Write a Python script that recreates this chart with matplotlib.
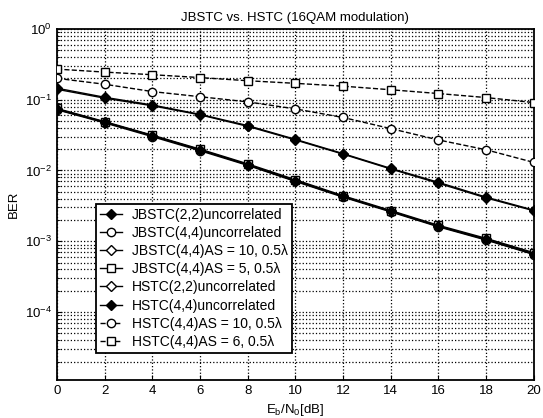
import numpy as np
import matplotlib
matplotlib.use('Agg')
import matplotlib.pyplot as plt

plt.rcParams['font.family'] = ['Liberation Sans', 'DejaVu Sans']

# Eb/N0 in dB
snr = [0, 2, 4, 6, 8, 10, 12, 14, 16, 18, 20]

# BER curves
jbstc22 = [0.14, 0.105, 0.082, 0.061, 0.042, 0.027, 0.017, 0.0105, 0.0066, 0.0041, 0.0027]
jbstc44 = [0.072, 0.047, 0.030, 0.019, 0.0118, 0.0070, 0.0042, 0.0026, 0.0016, 0.00104, 0.00065]
jbstc44_as10 = [0.073, 0.048, 0.031, 0.0195, 0.0121, 0.0072, 0.0043, 0.00266, 0.00164, 0.00107, 0.00067]
jbstc44_as5 = [0.075, 0.049, 0.0315, 0.020, 0.0124, 0.0074, 0.0044, 0.00272, 0.00168, 0.0011, 0.00069]
hstc22 = [0.145, 0.108, 0.084, 0.062, 0.043, 0.0275, 0.0173, 0.0107, 0.0068, 0.0042, 0.00275]
hstc44 = [0.074, 0.048, 0.031, 0.0196, 0.0120, 0.0071, 0.0043, 0.00265, 0.00163, 0.00106, 0.00066]
hstc44_as10 = [0.20, 0.165, 0.13, 0.11, 0.093, 0.074, 0.056, 0.039, 0.027, 0.0196, 0.013]
hstc44_as5 = [0.27, 0.245, 0.225, 0.205, 0.185, 0.17, 0.155, 0.138, 0.122, 0.107, 0.091]

labels = ['JBSTC(2,2)uncorrelated', 'JBSTC(4,4)uncorrelated',
          'JBSTC(4,4)AS = 10, 0.5λ', 'JBSTC(4,4)AS = 5, 0.5λ',
          'HSTC(2,2)uncorrelated', 'HSTC(4,4)uncorrelated',
          'HSTC(4,4)AS = 10, 0.5λ', 'HSTC(4,4)AS = 6, 0.5λ']

fig = plt.figure(figsize=(5.43, 4.18), dpi=100)
ax = fig.add_axes([0.105, 0.091, 0.878, 0.84])

k = dict(color='black', lw=1.0, mec='black', mew=1.0)
ax.semilogy(snr, jbstc22, '-', marker='D', ms=5, mfc='black', label=labels[0], zorder=5, **k)
ax.semilogy(snr, jbstc44, '-', marker='o', ms=6, mfc='white', label=labels[1], zorder=3, **k)
ax.semilogy(snr, jbstc44_as10, '-', marker='D', ms=5, mfc='white', label=labels[2], zorder=3, **k)
ax.semilogy(snr, jbstc44_as5, '-', marker='s', ms=6, mfc='white', label=labels[3], zorder=3, **k)
ax.semilogy(snr, hstc22, '-', marker='D', ms=5, mfc='white', label=labels[4], zorder=3, **k)
ax.semilogy(snr, hstc44, '-', marker='D', ms=5, mfc='black', label=labels[5], zorder=5, **k)
ax.semilogy(snr, hstc44_as10, '--', marker='o', ms=6, mfc='white', label=labels[6], zorder=3, **k)
ax.semilogy(snr, hstc44_as5, '--', marker='s', ms=6, mfc='white', label=labels[7], zorder=3, **k)

ax.set_xlim(0, 20)
ax.set_ylim(1.1e-5, 1)
ax.set_xticks(range(0, 21, 2))
ax.set_yticks([1e0, 1e-1, 1e-2, 1e-3, 1e-4])
ax.grid(True, which='major', color='black', ls=':', lw=0.9)
ax.grid(True, which='minor', axis='y', color='black', ls=':', lw=0.9)
ax.tick_params(which='both', direction='in', labelsize=9.5)
for s in ax.spines.values():
    s.set_linewidth(1.3)

ax.set_title('JBSTC vs. HSTC (16QAM modulation)', fontsize=9.5)
ax.set_ylabel('BER', fontsize=9.5)
ax.set_xlabel(r'E$_\mathregular{b}$/N$_\mathregular{0}$[dB]', fontsize=9.5)

leg = ax.legend(loc='lower left', bbox_to_anchor=(0.067, 0.057), fontsize=10,
                fancybox=False, framealpha=1, edgecolor='black',
                handlelength=1.6, borderpad=0.3, labelspacing=0.3,
                handletextpad=0.7)
leg.set_zorder(10)
leg.get_frame().set_linewidth(1.3)

fig.savefig('out.png', dpi=100)
